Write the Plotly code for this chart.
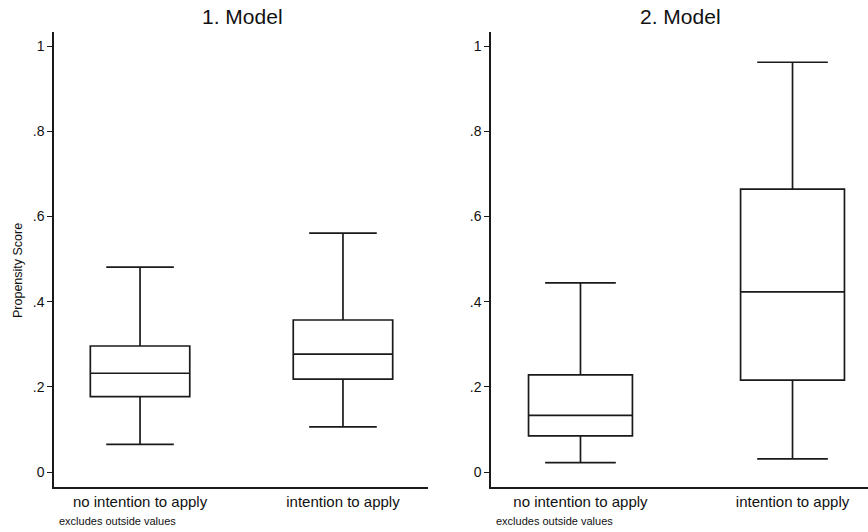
import plotly.graph_objects as go

categories = ["no intention to apply", "intention to apply"]

# Model 1
m1_lower = [0.065, 0.106]
m1_q1 = [0.177, 0.218]
m1_median = [0.232, 0.277]
m1_q3 = [0.296, 0.357]
m1_upper = [0.481, 0.561]

# Model 2
m2_lower = [0.022, 0.031]
m2_q1 = [0.085, 0.216]
m2_median = [0.133, 0.423]
m2_q3 = [0.228, 0.664]
m2_upper = [0.444, 0.962]

titles = ["1. Model", "2. Model"]
ytick_vals = [0, 0.2, 0.4, 0.6, 0.8, 1]
ytick_text = ["0", ".2", ".4", ".6", ".8", "1"]
ytitle = "Propensity Score"
note = "excludes outside values"

W, H = 868, 532
FONT = "Liberation Sans, Arial, sans-serif"
LINE = "#1a1a1a"

fig = go.Figure()

def add_boxes(xa, ya, lo, q1, med, q3, hi):
    for i, c in enumerate(categories):
        fig.add_trace(go.Box(
            x=[c], lowerfence=[lo[i]], q1=[q1[i]], median=[med[i]],
            q3=[q3[i]], upperfence=[hi[i]],
            xaxis=xa, yaxis=ya, boxpoints=False, width=0.49,
            whiskerwidth=0.68, fillcolor="white",
            line=dict(color=LINE, width=1.7), showlegend=False,
            hoverinfo="skip",
        ))

add_boxes("x", "y", m1_lower, m1_q1, m1_median, m1_q3, m1_upper)
add_boxes("x2", "y2", m2_lower, m2_q1, m2_median, m2_q3, m2_upper)

ydom = [1 - 487 / H, 1 - 32 / H]
yrange = [-0.035, 1.033]

common_x = dict(type="category", showline=True, linecolor=LINE, linewidth=1.5,
                ticks="", showgrid=False, zeroline=False, automargin=False,
                tickfont=dict(family=FONT, size=15, color="#111"),
                categoryorder="array", categoryarray=categories)
common_y = dict(range=yrange, domain=ydom, showline=True, linecolor=LINE,
                linewidth=1.5, ticks="outside", ticklen=5, tickwidth=1.3,
                tickcolor=LINE, tickvals=ytick_vals, ticktext=ytick_text,
                showgrid=False, zeroline=False, automargin=False,
                tickfont=dict(family=FONT, size=14, color="#111"))

fig.update_layout(
    width=W, height=H,
    margin=dict(l=0, r=0, t=0, b=0),
    paper_bgcolor="white", plot_bgcolor="white",
    xaxis=dict(domain=[54 / W, 428 / W], range=[-0.424, 1.419], anchor="y", **common_x),
    yaxis=dict(anchor="x", **common_y),
    xaxis2=dict(domain=[491 / W, 1.0], range=[-0.422, 1.356], anchor="y2", **common_x),
    yaxis2=dict(anchor="x2", **common_y),
    annotations=[
        dict(text=titles[0], x=242 / W, y=1 - 17 / H, xref="paper", yref="paper",
             xanchor="center", yanchor="middle",
             showarrow=False, font=dict(family=FONT, size=21, color="#111")),
        dict(text=titles[1], x=680 / W, y=1 - 17 / H, xref="paper", yref="paper",
             xanchor="center", yanchor="middle",
             showarrow=False, font=dict(family=FONT, size=21, color="#111")),
        dict(text=ytitle, x=18 / W, y=1 - 271 / H, xref="paper", yref="paper",
             xanchor="center", yanchor="middle", textangle=-90,
             showarrow=False, font=dict(family=FONT, size=12.5, color="#111")),
        dict(text=note, x=57 / W, y=1 - 521 / H, xref="paper", yref="paper",
             xanchor="left", yanchor="middle", showarrow=False,
             font=dict(family=FONT, size=11, color="#111")),
        dict(text=note, x=494 / W, y=1 - 521 / H, xref="paper", yref="paper",
             xanchor="left", yanchor="middle", showarrow=False,
             font=dict(family=FONT, size=11, color="#111")),
    ],
)

fig.write_html("out.html")
